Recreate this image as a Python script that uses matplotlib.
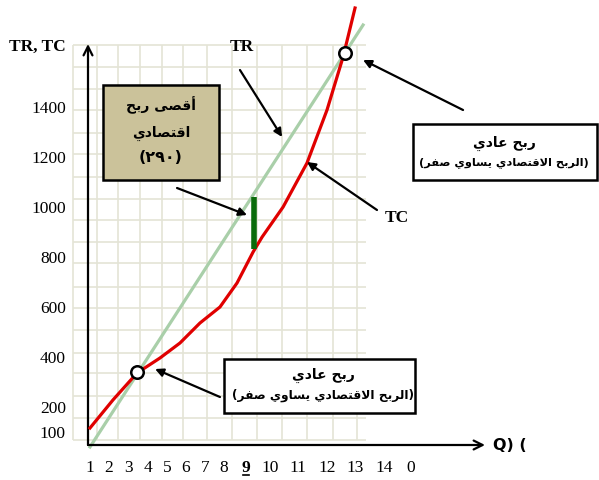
import matplotlib
matplotlib.use("Agg")
import matplotlib.pyplot as plt
from matplotlib.patches import Rectangle
from matplotlib.lines import Line2D
from matplotlib.transforms import IdentityTransform


# -------------------- DADOS --------------------
# Q em unidades do eixo (1 unidade = passo entre os primeiros rotulos)
q_labels = ["1", "2", "3", "4", "5", "6", "7", "8", "9", "10", "11", "12", "13", "14", "0"]
y_values = [100, 200, 400, 600, 800, 1000, 1200, 1400]

tr_q = [1.00, 14.93]
tr_v = [40, 1728]

tc_q = [1.00, 2.17, 3.40, 4.57, 5.59, 6.61, 7.63, 8.50, 9.32, 9.78, 10.85, 12.07, 13.09, 13.91, 14.52]
tc_v = [116, 228, 336, 396, 456, 536, 600, 696, 820, 880, 1000, 1176, 1388, 1600, 1796]

# pontos de lucro normal (TR = TC)
break_q = [3.40, 14.01]
break_v = [340, 1616]

# lucro economico maximo
max_q = 9.37
max_v = [832, 1040]

box_max_lines = ["أقصى ربح", "اقتصادي"]
box_max_value = "(٢٩٠)"
box_normal_lines = ["ربح عادي", "(الربح الاقتصادي يساوي صفر)"]

# -------------------- LAYOUT --------------------
q_tick_pos = [1.00, 1.97, 2.94, 3.96, 4.93, 5.90, 6.87, 7.84, 8.96, 10.18, 11.61, 13.09, 14.52, 16.00, 17.38]
grid_q = [0.13, 1.36, 2.43, 3.55, 4.67, 5.75, 6.97, 8.25, 9.52, 10.80, 12.07, 13.40, 14.62]
grid_v = [1648, 1560, 1472, 1388, 1296, 1212, 1120, 1032, 948, 860, 776, 680, 596, 508, 416, 336, 244, 156, 68]

GRID = "#e4e4d6"
TR_COLOR = "#a9cfa9"
TC_COLOR = "#e00000"
BAR_COLOR = "#0a6b0a"
BOX_TAN = "#cbc29a"


# -------------------- ARABE (formas de apresentacao) --------------------
FORMS = {
    "ا": ("\uFE8D", "\uFE8E", None, None),
    "أ": ("\uFE83", "\uFE84", None, None),
    "ب": ("\uFE8F", "\uFE90", "\uFE91", "\uFE92"),
    "ت": ("\uFE95", "\uFE96", "\uFE97", "\uFE98"),
    "ح": ("\uFEA1", "\uFEA2", "\uFEA3", "\uFEA4"),
    "د": ("\uFEA9", "\uFEAA", None, None),
    "ر": ("\uFEAD", "\uFEAE", None, None),
    "س": ("\uFEB1", "\uFEB2", "\uFEB3", "\uFEB4"),
    "ص": ("\uFEB9", "\uFEBA", "\uFEBB", "\uFEBC"),
    "ع": ("\uFEC9", "\uFECA", "\uFECB", "\uFECC"),
    "ف": ("\uFED1", "\uFED2", "\uFED3", "\uFED4"),
    "ق": ("\uFED5", "\uFED6", "\uFED7", "\uFED8"),
    "ل": ("\uFEDD", "\uFEDE", "\uFEDF", "\uFEE0"),
    "و": ("\uFEED", "\uFEEE", None, None),
    "ى": ("\uFEEF", "\uFEF0", None, None),
    "ي": ("\uFEF1", "\uFEF2", "\uFEF3", "\uFEF4"),
    "لا": ("\uFEFB", "\uFEFC", None, None),
}


def shape_arabic(s):
    chars = []
    i = 0
    while i < len(s):
        if s[i] == "ل" and i + 1 < len(s) and s[i + 1] == "ا":
            chars.append("لا")
            i += 2
        else:
            chars.append(s[i])
            i += 1
    out = []
    for k, c in enumerate(chars):
        if c not in FORMS:
            out.append(c)
            continue
        f = FORMS[c]
        prev = chars[k - 1] if k > 0 else None
        nxt = chars[k + 1] if k + 1 < len(chars) else None
        jp = prev in FORMS and FORMS[prev][2] is not None
        jn = f[2] is not None and nxt in FORMS
        if jp and jn:
            out.append(f[3])
        elif jp:
            out.append(f[1])
        elif jn:
            out.append(f[2])
        else:
            out.append(f[0])
    vis = "".join(reversed(out))
    return vis.translate(str.maketrans("()", ")("))


def arrow(ax, start, end):
    ax.annotate("", xy=end, xytext=start,
                arrowprops=dict(arrowstyle="-|>", color="black", lw=1.6,
                                mutation_scale=12, shrinkA=0, shrinkB=0),
                annotation_clip=False)


# -------------------- PLOT --------------------
plt.rcParams["font.family"] = ["Liberation Serif", "DejaVu Sans"]
fig = plt.figure(figsize=(5.99, 4.80), dpi=100)
ax = fig.add_axes([88 / 599, 35 / 480, 397 / 599, 401 / 480])
ax.set_xlim(0.898, 21.15)
ax.set_ylim(48, 1652)
for sp in ax.spines.values():
    sp.set_visible(False)

# grade
ax.hlines(grid_v, grid_q[0], 15.08, color=GRID, lw=1.2, clip_on=False, zorder=0)
ax.vlines(grid_q, 68, 1648, color=GRID, lw=1.2, clip_on=False, zorder=0)

# eixos com seta
ax.annotate("", xy=(1, 0), xytext=(0, 0), xycoords="axes fraction",
            arrowprops=dict(arrowstyle="->", color="black", lw=1.6,
                            mutation_scale=16, shrinkA=0, shrinkB=0))
ax.annotate("", xy=(0, 1), xytext=(0, 0), xycoords="axes fraction",
            arrowprops=dict(arrowstyle="->", color="black", lw=1.6,
                            mutation_scale=16, shrinkA=0, shrinkB=0))

# curvas
ax.plot(tr_q, tr_v, color=TR_COLOR, lw=2.3, clip_on=False, zorder=2)
ax.plot(tc_q, tc_v, color=TC_COLOR, lw=2.3, clip_on=False, zorder=3)
ax.vlines(max_q, max_v[0], max_v[1], color=BAR_COLOR, lw=4, zorder=4)
ax.plot(break_q, break_v, "o", ms=9, mfc="white", mec="black", mew=1.8,
        clip_on=False, zorder=5)

# ticks
ax.set_xticks(q_tick_pos, q_labels)
ax.set_yticks(y_values, [str(v) for v in y_values])
ax.tick_params(axis="x", length=0, pad=11, labelsize=12.5)
ax.tick_params(axis="y", length=0, pad=16, labelsize=12.5)
nine = ax.get_xticklabels()[8]
nine.set_fontweight("bold")

# rotulos
ax.text(-1.70, 1640, "TR, TC", fontsize=12.5, fontweight="bold", ha="center", va="center")
ax.text(8.76, 1640, "TR", fontsize=12.5, fontweight="bold", ha="center", va="center")
ax.text(16.66, 956, "TC", fontsize=12.5, fontweight="bold", ha="center", va="center")
ax.text(21.56, 44, "Q) (", fontsize=11.5, fontweight="bold", family="DejaVu Sans",
        ha="left", va="center", clip_on=False)

# caixa lucro maximo
ax.add_patch(Rectangle((1.66, 1108), 5.92, 380, facecolor=BOX_TAN, edgecolor="black",
                       lw=1.8, clip_on=False, zorder=6))
ax.text(4.62, 1408, shape_arabic(box_max_lines[0]), fontsize=10, fontweight="bold",
        family="DejaVu Sans", ha="center", va="center", zorder=7)
ax.text(4.62, 1296, shape_arabic(box_max_lines[1]), fontsize=10, fontweight="bold",
        family="DejaVu Sans", ha="center", va="center", zorder=7)
ax.text(4.62, 1196, box_max_value, fontsize=11.5, fontweight="bold",
        family="DejaVu Sans", ha="center", va="center", zorder=7)

# caixas lucro normal
for (x0, y0, w, h, cx, y1, y2, fs) in [(17.48, 1108, 9.39, 224, 22.12, 1256, 1176, 8.2),
                                       (7.84, 176, 9.74, 216, 12.89, 328, 248, 8.8)]:
    ax.add_patch(Rectangle((x0, y0), w, h, facecolor="white", edgecolor="black",
                           lw=1.8, clip_on=False, zorder=6))
    ax.text(cx, y1, shape_arabic(box_normal_lines[0]), fontsize=10, fontweight="bold",
            family="DejaVu Sans", ha="center", va="center", zorder=7, clip_on=False)
    ax.text(cx, y2, shape_arabic(box_normal_lines[1]), fontsize=fs, fontweight="bold",
            family="DejaVu Sans", ha="center", va="center", zorder=7, clip_on=False)

# setas
arrow(ax, (5.44, 1076), (9.01, 968))
arrow(ax, (8.65, 1548), (10.80, 1280))
arrow(ax, (15.64, 988), (12.07, 1180))
arrow(ax, (20.03, 1388), (14.93, 1588))
arrow(ax, (7.63, 240), (4.32, 352))

# sublinhado do 9
fig.canvas.draw()
bb = nine.get_window_extent()
fig.add_artist(Line2D([bb.x0 + 1, bb.x1 - 1], [bb.y0 + 1, bb.y0 + 1], color="black",
                      lw=1.2, transform=IdentityTransform()))

fig.savefig("out.png", dpi=100)
